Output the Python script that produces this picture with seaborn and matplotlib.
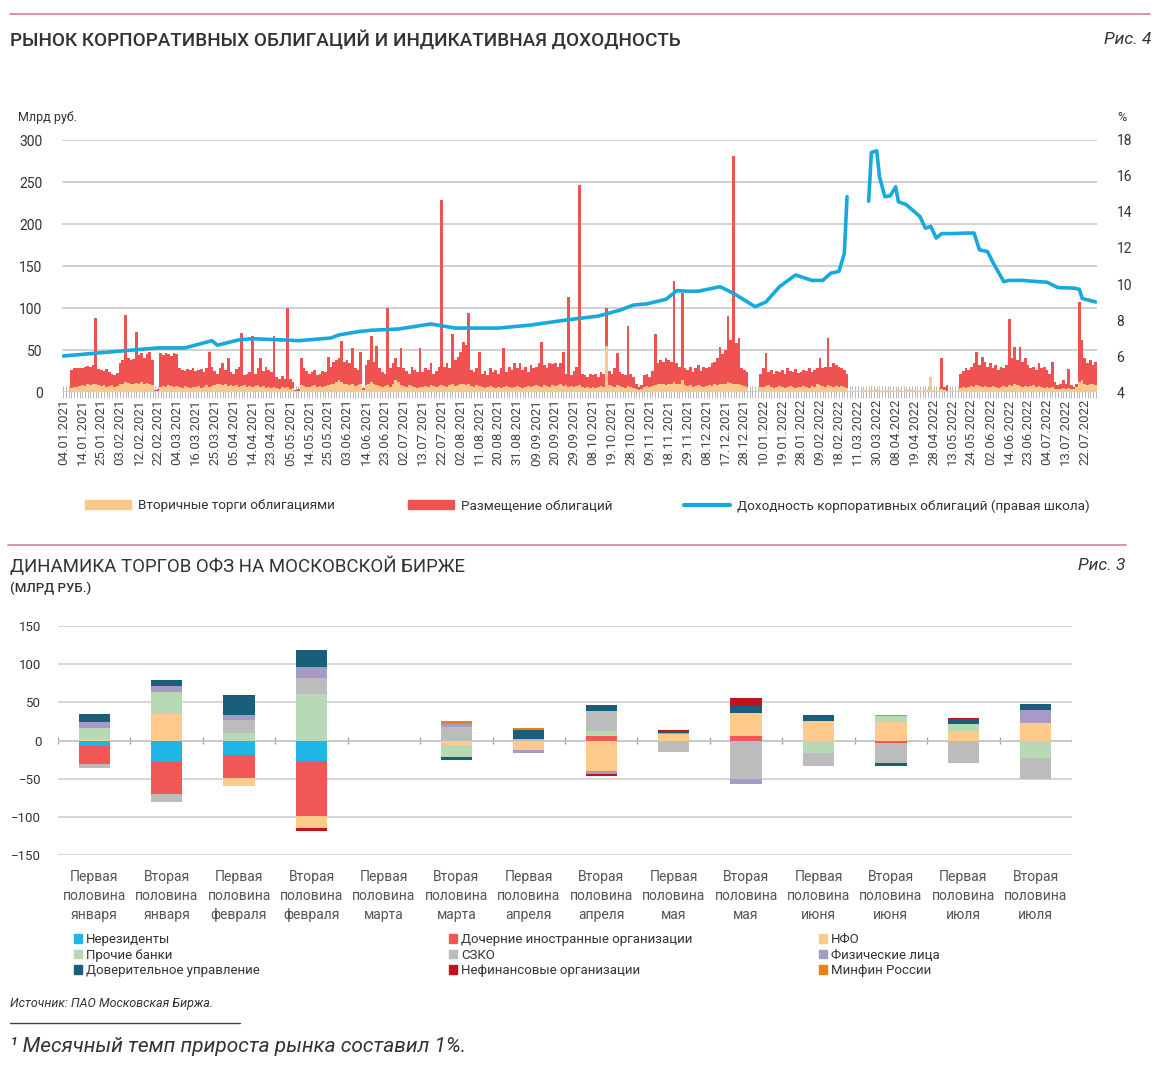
import numpy as np
import pandas as pd
import matplotlib
matplotlib.use("Agg")
import matplotlib.pyplot as plt
from matplotlib.patches import Patch
from matplotlib.lines import Line2D
import seaborn as sns

# ---------------- top chart: corporate bond market ----------------
date_ticks = [
    "04.01.2021", "14.01.2021", "25.01.2021", "03.02.2021", "12.02.2021", "22.02.2021",
    "04.03.2021", "16.03.2021", "25.03.2021", "05.04.2021", "14.04.2021", "23.04.2021",
    "05.05.2021", "14.05.2021", "25.05.2021", "03.06.2021", "14.06.2021", "23.06.2021",
    "02.07.2021", "13.07.2021", "22.07.2021", "02.08.2021", "11.08.2021", "20.08.2021",
    "31.08.2021", "09.09.2021", "20.09.2021", "29.09.2021", "08.10.2021", "19.10.2021",
    "28.10.2021", "09.11.2021", "18.11.2021", "29.11.2021", "08.12.2021", "17.12.2021",
    "28.12.2021", "10.01.2022", "19.01.2022", "28.01.2022", "09.02.2022", "18.02.2022",
    "11.03.2022", "30.03.2022", "08.04.2022", "19.04.2022", "28.04.2022", "13.05.2022",
    "24.05.2022", "02.06.2022", "14.06.2022", "23.06.2022", "04.07.2022", "13.07.2022",
    "22.07.2022",
]

# daily placements, bn rub (one row per 7 trading days between date ticks)
placement_weeks = [
    [0, 0, 0, 26, 28, 29, 28], [29, 30, 31, 30, 32, 88, 27], [26, 25, 27, 24, 22, 20, 23],
    [34, 38, 92, 40, 38, 39, 72], [44, 46, 40, 45, 48, 38, 2], [3, 46, 44, 47, 45, 43, 46],
    [45, 28, 26, 25, 27, 26, 28], [25, 26, 27, 24, 28, 48, 30], [25, 22, 28, 34, 26, 40, 24],
    [22, 27, 30, 70, 20, 22, 24], [67, 22, 28, 40, 25, 30, 26], [24, 67, 18, 16, 19, 15, 100],
    [15, 12, 2, 3, 40, 28, 25], [22, 24, 26, 20, 22, 25, 24], [42, 30, 36, 38, 40, 61, 36],
    [38, 35, 52, 28, 26, 48, 5], [32, 38, 67, 36, 55, 28, 24], [22, 100, 28, 35, 40, 30, 52],
    [28, 25, 22, 30, 26, 24, 52], [24, 28, 26, 34, 22, 25, 30], [228, 30, 34, 28, 69, 38, 42],
    [48, 60, 56, 94, 26, 24, 28], [48, 22, 25, 20, 28, 24, 26], [22, 28, 52, 24, 30, 26, 35],
    [28, 34, 26, 30, 24, 32, 28], [30, 35, 60, 32, 28, 34, 33], [35, 30, 34, 48, 22, 113, 20],
    [25, 30, 246, 22, 20, 18, 22], [20, 22, 18, 24, 21, 100, 25], [22, 28, 46, 24, 22, 20, 78],
    [22, 18, 10, 6, 8, 20, 22], [18, 25, 69, 34, 38, 36, 40], [38, 36, 132, 34, 30, 118, 28],
    [26, 30, 24, 28, 32, 25, 30], [28, 30, 34, 36, 40, 54, 45], [50, 91, 62, 281, 58, 64, 28],
    [26, 24, 0, 0, 0, 0, 22], [28, 47, 24, 26, 22, 25, 24], [26, 22, 28, 25, 24, 27, 23],
    [24, 26, 25, 28, 24, 26, 28], [41, 28, 30, 64, 30, 35, 32], [30, 28, 26, 22, 0, 0, 0],
    [0, 0, 0, 0, 0, 0, 0], [0, 0, 0, 0, 0, 0, 0], [0, 0, 0, 0, 0, 0, 0],
    [0, 0, 0, 0, 0, 0, 0], [0, 0, 0, 41, 6, 8, 0], [0, 0, 0, 22, 25, 28, 26],
    [30, 34, 48, 32, 42, 36, 30], [34, 28, 32, 26, 30, 28, 32], [87, 40, 54, 38, 54, 36, 40],
    [32, 28, 30, 26, 34, 28, 30], [26, 22, 36, 12, 8, 10, 14], [10, 27, 8, 6, 10, 107, 62],
    [40, 35, 38, 32, 36],
]

# daily secondary trading, bn rub
secondary_weeks = [
    [0, 0, 0, 5, 6, 6, 7], [8, 7, 9, 8, 10, 9, 8], [7, 8, 6, 7, 8, 6, 7],
    [9, 10, 12, 11, 10, 9, 11], [10, 12, 9, 11, 10, 8, 1], [1, 6, 7, 6, 8, 7, 6],
    [7, 6, 5, 7, 6, 5, 6], [6, 7, 5, 6, 8, 6, 7], [8, 9, 10, 8, 9, 7, 8],
    [7, 8, 6, 7, 8, 6, 7], [6, 7, 8, 6, 7, 5, 6], [5, 6, 5, 4, 6, 5, 6],
    [4, 5, 1, 1, 8, 7, 6], [6, 7, 8, 6, 7, 6, 7], [8, 9, 10, 12, 14, 12, 10],
    [9, 8, 10, 7, 8, 9, 2], [8, 10, 12, 9, 8, 7, 6], [7, 8, 6, 9, 14, 12, 8],
    [7, 6, 8, 7, 6, 5, 6], [6, 7, 6, 8, 7, 6, 7], [8, 7, 6, 8, 9, 7, 8],
    [9, 10, 8, 9, 7, 6, 8], [7, 6, 5, 6, 7, 6, 5], [6, 5, 6, 7, 6, 5, 6],
    [7, 6, 5, 6, 7, 6, 7], [8, 7, 6, 8, 7, 6, 8], [7, 8, 9, 7, 8, 6, 7],
    [6, 7, 8, 6, 5, 6, 5], [6, 5, 6, 7, 6, 55, 8], [7, 6, 8, 7, 6, 5, 7],
    [6, 5, 4, 2, 3, 6, 7], [6, 7, 8, 9, 10, 9, 8], [9, 10, 12, 10, 9, 14, 8],
    [7, 8, 6, 7, 8, 7, 6], [7, 8, 7, 9, 8, 10, 9], [10, 12, 11, 9, 10, 9, 8],
    [7, 6, 0, 0, 0, 0, 6], [6, 7, 8, 6, 5, 6, 7], [6, 5, 6, 7, 6, 5, 6],
    [6, 7, 6, 5, 7, 6, 10], [8, 7, 6, 8, 7, 6, 7], [6, 7, 6, 5, 1, 1, 1],
    [1, 1, 2, 2, 1, 2, 1], [3, 2, 1, 2, 2, 1, 2], [1, 2, 2, 1, 2, 3, 2],
    [2, 1, 2, 1, 2, 2, 18], [2, 1, 1, 3, 2, 1, 1], [1, 1, 1, 5, 6, 5, 6],
    [7, 6, 8, 7, 6, 7, 6], [6, 7, 6, 5, 6, 7, 6], [8, 7, 9, 8, 7, 6, 7],
    [6, 7, 8, 6, 7, 6, 5], [6, 5, 6, 4, 3, 4, 5], [4, 5, 3, 4, 6, 12, 14],
    [10, 8, 9, 10, 8],
]

# corporate bond yield, % (trading-day index, value)
yield_days = [0, 13, 35, 45, 55, 57, 65, 70, 83, 87, 99, 102, 109, 114, 124, 136, 145,
              161, 173, 186, 198, 206, 211, 216, 223, 227, 231, 235, 243, 248, 256, 260,
              265, 270, 271, 277, 281, 284, 287, 289, 290,
              298, 299, 301, 302, 304, 306, 308, 309, 312, 317, 319, 321, 323, 325, 329,
              334, 337, 339, 342, 344, 348, 350, 355, 359, 364, 368, 374, 376, 377, 382]
yield_pct = [6.0, 6.17, 6.45, 6.45, 6.85, 6.6, 6.9, 6.96, 6.88, 6.85, 7.0, 7.17, 7.35, 7.43,
             7.5, 7.78, 7.55, 7.55, 7.72, 8.0, 8.22, 8.55, 8.83, 8.9, 9.15, 9.63, 9.6, 9.6,
             9.85, 9.48, 8.74, 9.0, 9.85, 10.4, 10.5, 10.2, 10.2, 10.6, 10.7, 11.7, 14.85,
             14.6, 17.3, 17.4, 15.96, 14.85, 14.9, 15.4, 14.57, 14.4, 13.74, 13.1, 13.2,
             12.55, 12.8, 12.8, 12.83, 12.83, 11.9, 11.8, 11.2, 10.13, 10.2, 10.2, 10.15,
             10.1, 9.8, 9.77, 9.7, 9.2, 9.0]

# ---------------- bottom chart: OFZ trading ----------------
halves = [
    "Первая\nполовина\nянваря", "Вторая\nполовина\nянваря",
    "Первая\nполовина\nфевраля", "Вторая\nполовина\nфевраля",
    "Первая\nполовина\nмарта", "Вторая\nполовина\nмарта",
    "Первая\nполовина\nапреля", "Вторая\nполовина\nапреля",
    "Первая\nполовина\nмая", "Вторая\nполовина\nмая",
    "Первая\nполовина\nиюня", "Вторая\nполовина\nиюня",
    "Первая\nполовина\nиюля", "Вторая\nполовина\nиюля",
]
nonresidents = [-7, -28, -19, -27, 0, 0, 0, 0, 0, 0, 0, 0, 0, 0]
foreign_subs = [-24, -42, -30, -72, 0, 0, 0, 6, 0, 6, 0, -3, 0, 0]
nfo = [2, 35, -11, -16, 0, -6, -13, -40, 9, 30, 25, 24, 12, 23]
other_banks = [15, 28, 10, 61, 0, -15, 0, 6, 0, 0, -16, 8, 9, -23]
szko = [-5, -11, 17, 21, 0, 18, 2, 26, -15, -50, -17, -27, -30, -27]
individuals = [7, 8, 6, 14, 0, 3, -4, -4, 1, -7, 0, 0, 0, 17]
trust_mgmt = [11, 8, 25, 23, 0, -4, 12, 8, 2, 9, 8, -4, 7, 8]
nonfin = [0, 0, 1.5, -3, 0, 0, 0, -3, 1.5, 11, 0, 0, 1.5, 0]
minfin = [0, 0, 0, 0, 0, 4, 2, 0, 0, 0, 0, 1.5, 0, 0]

series_names = ["Нерезиденты", "Дочерние иностранные организации", "НФО", "Прочие банки",
                "СЗКО", "Физические лица", "Доверительное управление",
                "Нефинансовые организации", "Минфин России"]
series_values = [nonresidents, foreign_subs, nfo, other_banks, szko, individuals,
                 trust_mgmt, nonfin, minfin]
series_colors = ["#1fb5e6", "#f25757", "#fdca8c", "#b7d9b6", "#bcbcbc", "#a89ac6",
                 "#195f7b", "#c4121c", "#ef7f1a"]

# ---------------- setup ----------------
sns.set_theme(style="white")
plt.rcParams["font.family"] = ["Roboto", "DejaVu Sans"]
W, H = 1168, 1080


def fx(px):
    return px / W


def fy(py):
    return 1 - py / H


TXT = "#333333"
fig = plt.figure(figsize=(W / 100, H / 100), dpi=100)

# ---------------- top chart ----------------
placement = np.concatenate([np.array(w, float) for w in placement_weeks])
secondary = np.concatenate([np.array(w, float) for w in secondary_weeks])
days = np.arange(len(placement))

ax1 = fig.add_axes([fx(62), fy(392), fx(1097) - fx(62), fy(140) - fy(392)])
ax1.bar(days, placement, width=1.0, color="#f05252", linewidth=0)
ax1.bar(days, secondary, width=1.0, color="#f9c98b", linewidth=0)
ax1.set_xlim(-0.5, len(days) - 0.5)
ax1.set_ylim(0, 300)
ax1.set_yticks(range(0, 301, 50))
ax1.yaxis.grid(True, color="#c9c9c9", lw=1.2)
ax1.set_axisbelow(True)
ax1.set_xticks(days[::7])
ax1.set_xticklabels(date_ticks, rotation=90, fontsize=9.5, color="#444444")
ax1.set_xticks(days, minor=True)
ax1.tick_params(axis="x", which="both", length=8, direction="inout", color="#b8b8b8",
                width=0.7, pad=1, bottom=True)
ax1.tick_params(axis="y", length=0, labelsize=10, labelcolor=TXT, pad=14)
for s in ax1.spines.values():
    s.set_visible(False)

ax2 = ax1.twinx()
ydf = pd.DataFrame({"day": yield_days, "pct": yield_pct})
ydf["seg"] = (ydf["day"] > 292).astype(int)
sns.lineplot(data=ydf, x="day", y="pct", units="seg", estimator=None, ax=ax2,
             color="#17a9dc", lw=2.6)
ax2.set_ylim(4, 18)
ax2.set_yticks(range(4, 19, 2))
ax2.set_ylabel("")
ax2.set_xlabel("")
ax2.grid(False)
ax2.tick_params(axis="y", length=0, labelsize=10, labelcolor=TXT, pad=14)
for s in ax2.spines.values():
    s.set_visible(False)
ax1.set_xlabel("")

fig.text(fx(18), fy(117), "Млрд руб.", fontsize=9, color=TXT, va="center")
fig.text(fx(1117), fy(117), "%", fontsize=9, color=TXT, va="center")

top_items = [
    (85, Patch(color="#f9c98b"), "Вторичные торги облигациями"),
    (408, Patch(color="#f05252"), "Размещение облигаций"),
    (684, Line2D([], [], color="#17a9dc", lw=3), "Доходность корпоративных облигаций (правая школа)"),
]
for xpos, h, lab in top_items:
    fig.legend([h], [lab], loc="center left", bbox_to_anchor=(fx(xpos), fy(506)),
               frameon=False, fontsize=9.7, handlelength=3.4, handleheight=0.6,
               handletextpad=0.5, borderpad=0, borderaxespad=0, labelcolor=TXT)

# ---------------- bottom chart ----------------
axb = fig.add_axes([fx(58), fy(855), fx(1072) - fx(58), fy(626) - fy(855)])
x = np.arange(len(halves))
pos_base = np.zeros(len(halves))
neg_base = np.zeros(len(halves))
for vals, col in zip(series_values, series_colors):
    v = np.array(vals, float)
    pos = np.clip(v, 0, None)
    neg = np.clip(v, None, 0)
    axb.bar(x, pos, bottom=pos_base, width=0.43, color=col, linewidth=0)
    axb.bar(x, neg, bottom=neg_base, width=0.43, color=col, linewidth=0)
    pos_base += pos
    neg_base += neg
axb.set_xlim(-0.5, len(halves) - 0.5)
axb.set_ylim(-150, 150)
axb.set_yticks(range(-150, 151, 50))
axb.yaxis.grid(True, color="#cfcfcf", lw=1.2)
axb.set_axisbelow(True)
axb.axhline(0, color="#a0a0a0", lw=1.2, zorder=0.5)
axb.vlines(np.arange(-0.5, len(halves), 1), -4, 4, color="#a0a0a0", lw=1, zorder=0.5)
axb.set_xticks(x)
axb.set_xticklabels(halves, fontsize=10, color="#555555", linespacing=1.45)
axb.tick_params(axis="x", length=0, pad=11)
axb.tick_params(axis="y", length=0, labelsize=9.5, labelcolor=TXT, pad=12)
for s in axb.spines.values():
    s.set_visible(False)

handles = [Patch(color=c) for c in series_colors]
for col_i, xpos in enumerate([74, 449, 819]):
    idx = [col_i, col_i + 3, col_i + 6]
    fig.legend([handles[i] for i in idx], [series_names[i] for i in idx],
               loc="upper left", bbox_to_anchor=(fx(xpos), fy(933)), frameon=False,
               fontsize=9.5, handlelength=0.6, handleheight=0.6, handletextpad=0.3,
               labelspacing=0.2, borderpad=0, borderaxespad=0, labelcolor=TXT)

# ---------------- titles, rules, notes ----------------
fig.add_artist(Line2D([fx(10), fx(1150)], [fy(14), fy(14)], color="#d98b9d", lw=1.3))
fig.add_artist(Line2D([fx(8), fx(1126)], [fy(545), fy(545)], color="#d98b9d", lw=1.3))
fig.text(fx(10), fy(40), "РЫНОК КОРПОРАТИВНЫХ ОБЛИГАЦИЙ И ИНДИКАТИВНАЯ ДОХОДНОСТЬ",
         fontsize=13.6, fontweight="medium", color=TXT, va="center")
fig.text(fx(1152), fy(40), "Рис. 4", fontsize=12.5, style="italic", color=TXT,
         va="center", ha="right")
fig.text(fx(10), fy(566), "ДИНАМИКА ТОРГОВ ОФЗ НА МОСКОВСКОЙ БИРЖЕ",
         fontsize=13.4, color=TXT, va="center")
fig.text(fx(10), fy(588), "(МЛРД РУБ.)", fontsize=9.5, fontweight="medium", color=TXT,
         va="center")
fig.text(fx(1125), fy(566), "Рис. 3", fontsize=12.5, style="italic", color=TXT,
         va="center", ha="right")
fig.text(fx(10), fy(1003), "Источник: ПАО Московская Биржа.", fontsize=9, style="italic",
         color=TXT, va="center")
fig.add_artist(Line2D([fx(10), fx(240)], [fy(1023), fy(1023)], color="#444444", lw=1))
fig.text(fx(10), fy(1047), "¹ Месячный темп прироста рынка составил 1%.", fontsize=15,
         style="italic", color=TXT, va="center")

fig.savefig("out.png", dpi=100)
